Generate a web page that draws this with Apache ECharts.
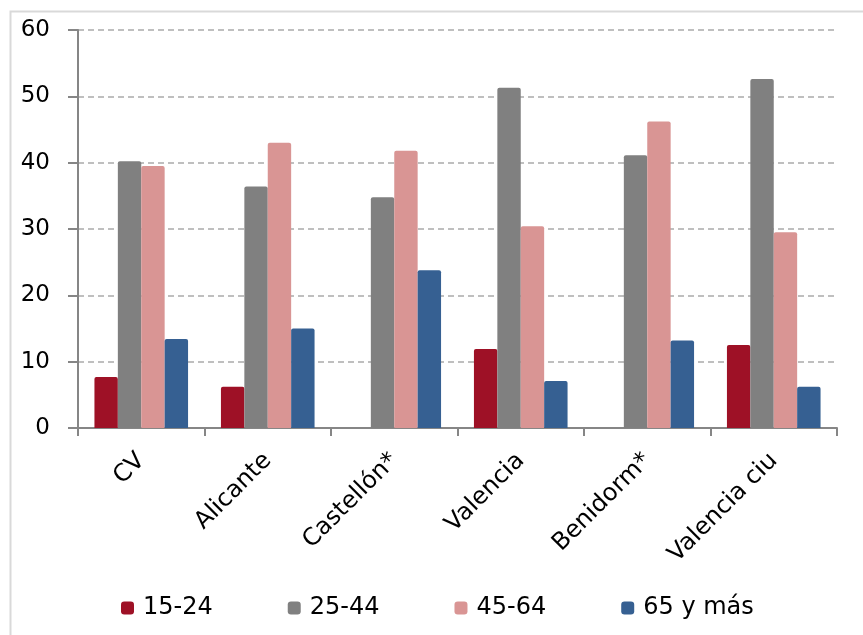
<!DOCTYPE html>
<html><head><meta charset="utf-8">
<script src="https://cdn.jsdelivr.net/npm/echarts@6/dist/echarts.min.js"></script>
<style>html,body{margin:0;padding:0;background:#fff}#c{width:863px;height:635px}</style>
</head><body><div id="c"></div>
<script>
const categories = ['CV', 'Alicante', 'Castellón*', 'Valencia', 'Benidorm*', 'Valencia ciu'];
const seriesNames = ['15-24', '25-44', '45-64', '65 y más'];
const s1524 = [7.7, 6.2, null, 11.9, null, 12.5];
const s2544 = [40.2, 36.4, 34.8, 51.3, 41.1, 52.6];
const s4564 = [39.5, 43.0, 41.8, 30.4, 46.2, 29.5];
const s65 = [13.4, 15.0, 23.8, 7.1, 13.2, 6.2];
const yTicks = [0, 10, 20, 30, 40, 50, 60];
const colors = ['#9E1126', '#808080', '#D99594', '#366092'];
const values = [s1524, s2544, s4564, s65];
const font = 'DejaVu Sans';
const chart = echarts.init(document.getElementById('c'));
chart.setOption({
  animation: false,
  textStyle: { fontFamily: font },
  graphic: [{ type: 'rect', shape: { x: 10.5, y: 11.5, width: 900, height: 700 }, style: { fill: 'none', stroke: '#D9D9D9', lineWidth: 2 }, silent: true, z: -1 }],
  grid: { left: 78, right: 26, top: 30, bottom: 207, containLabel: false },
  legend: {
    bottom: 10, left: 116, itemWidth: 13, itemHeight: 13, itemGap: 75,
    icon: 'roundRect',
    textStyle: { fontFamily: font, fontSize: 24, color: '#000', padding: [0, 0, 0, 4] },
    data: seriesNames
  },
  xAxis: {
    type: 'category', data: categories,
    axisLine: { lineStyle: { color: '#868686', width: 2 } },
    axisTick: { show: true, length: 8, lineStyle: { color: '#868686', width: 2 } },
    axisLabel: { rotate: 45, margin: 29, fontSize: 24, color: '#000', fontFamily: font }
  },
  yAxis: {
    type: 'value', min: yTicks[0], max: yTicks[yTicks.length - 1], interval: 10,
    axisLine: { show: true, lineStyle: { color: '#868686', width: 2 } },
    axisTick: { show: true, length: 10, lineStyle: { color: '#868686', width: 2 } },
    axisLabel: { margin: 28, fontSize: 23, color: '#000', fontFamily: font },
    splitLine: { lineStyle: { color: '#BFBFBF', type: [6, 4], width: 2 } }
  },
  series: seriesNames.map((n, i) => ({
    name: n, type: 'bar', data: values[i], barGap: '0%', barCategoryGap: '26%',
    itemStyle: { color: colors[i], borderRadius: [2, 2, 0, 0] }
  }))
});
</script></body></html>
